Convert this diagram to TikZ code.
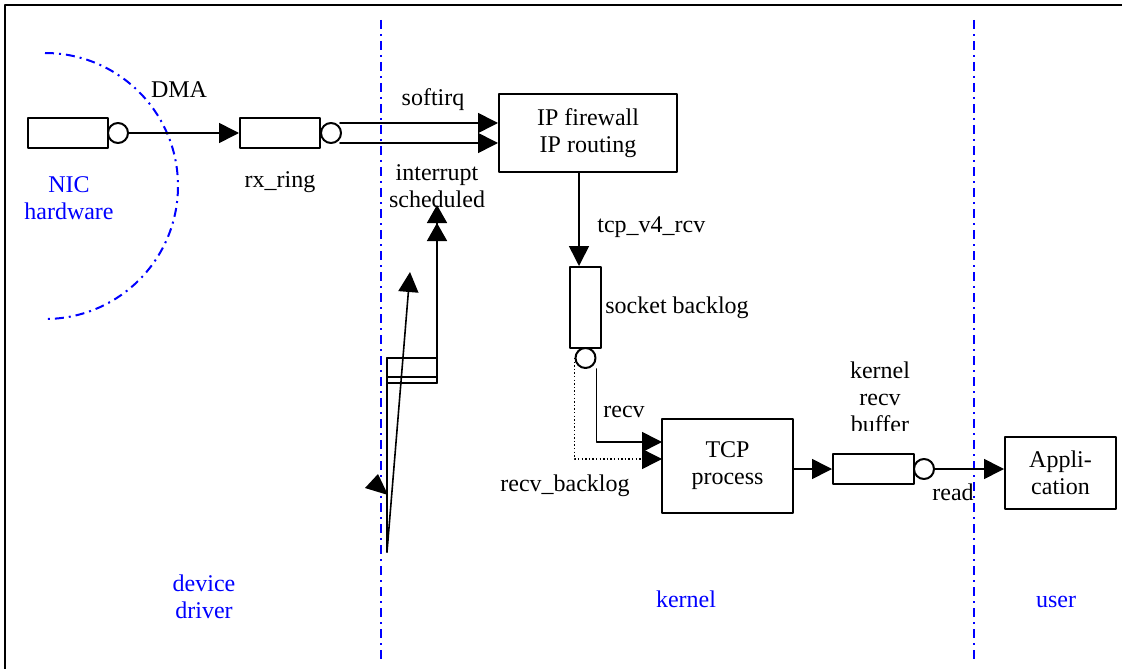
\documentclass[tikz,border=0pt]{standalone}
\usepackage{fontspec}
\setmainfont{Liberation Serif}
\usetikzlibrary{arrows.meta}
\definecolor{qqqqff}{rgb}{0.,0.,1.}
\begin{document}
\begin{tikzpicture}[line cap=round,line join=round,x=0.5pt,y=-0.5pt,
  every node/.style={font=\fontsize{12}{13.5}\selectfont},
  >={Triangle[length=10pt,width=10pt]},
  qbox/.style={draw,line width=1pt,inner sep=0pt},
  qport/.style={circle,draw,line width=1pt,inner sep=0pt,minimum size=10pt},
  fbox/.style={draw,line width=1pt,align=center,inner sep=0pt},
  flow/.style={line width=0.8pt},
  bkflow/.style={line width=0.7pt,line cap=butt,dash pattern=on 0.7pt off 1.1pt},
  zone/.style={color=qqqqff,line width=1pt,line cap=butt,dash pattern=on 4.5pt off 2.5pt on 1pt off 2.5pt},
  zlbl/.style={color=qqqqff,align=center}]
\useasboundingbox (0,0) rectangle (1122,668);
\clip(0,0) rectangle (1122,668);
\draw [line width=1pt] (5,5) rectangle (1140,690);
% zones
\draw [zone] (45,53) arc (90:-90:66.5pt);
\draw [zone] (381,20) -- (381,660);
\draw [zone] (974,20) -- (974,660);
\node[zlbl] (nicl) at (69,198) {NIC\\hardware};
\node[zlbl] (ddl) at (204,597) {device\\driver};
\node[zlbl,anchor=base] (kl) at (686,607) {kernel};
\node[zlbl,anchor=base] (ul) at (1056,607) {user};
% queues and blocks
\node[qbox,minimum width=40pt,minimum height=15pt] (nicq) at (68,133) {};
\node[qport] (nicp) at (118,133) {};
\node[qbox,minimum width=40pt,minimum height=15pt] (rxq) at (280,133) {};
\node[qport] (rxp) at (331,133) {};
\node[fbox,minimum width=89pt,minimum height=39pt] (ipf) at (588,133) {IP firewall\\IP routing};
\node[qbox,minimum width=15.5pt,minimum height=40.5pt] (sockq) at (585.5,307.5) {};
\node[qport] (sockp) at (585.5,358) {};
\node[fbox,minimum width=65.5pt,minimum height=47pt] (tcp) at (727.5,466) {TCP\\process};
\node[qbox,minimum width=40.5pt,minimum height=15pt] (bufq) at (873.5,469) {};
\node[qport] (bufp) at (924,469) {};
\node[fbox,minimum width=55.5pt,minimum height=36pt] (app) at (1060.5,473) {Appli-\\cation};
% flows
\coordinate (sirqa) at (340,123);
\coordinate (sirqb) at (340,143);
\coordinate (v4) at (579,172);
\coordinate (rcvin) at (662,442);
\coordinate (bkin) at (662,459);
\draw [flow,->] (nicp) -- (rxq);
\draw [flow,->] (sirqa) -- (sirqa -| ipf.west);
\draw [flow,->] (sirqb) -- (sirqb -| ipf.west);
\draw [flow,->] (v4) -- (v4 |- sockq.north);
\draw [flow,->] (sockp.east |- sockp.south) |- (rcvin);
\draw [bkflow,->] (sockp.west) |- (bkin);
\draw [flow,->] (tcp.east |- bufq) -- (bufq.west);
\draw [flow,->] (bufp.east) -- (bufp.east -| app.west);
% interrupt
\coordinate (irqa) at (387,552);
\coordinate (irqb) at (387,358);
\coordinate (irqc) at (437,383);
\coordinate (irqd) at (437,205);
\coordinate (irqe) at (410,272);
\coordinate (irqf) at (387,377);
\coordinate (irqg) at (437,377);
\draw [flow] (irqa) -- (irqb);
\draw [flow] (irqb) rectangle (irqc);
\draw [flow] (irqf) -- (irqg);
\draw [flow,-{Triangle[length=9pt,width=10pt,sep=0pt]Triangle[length=9pt,width=10pt]}] (irqc) -- (irqd);
\draw [flow,->] (irqa) -- (irqe);
\fill (365,488) -- (378,474) -- (388,495) -- cycle;
% labels
\node[anchor=base] (dmal) at (179,98) {DMA};
\node[anchor=base] (rxl) at (280,188) {rx\_ring};
\node[anchor=base] (sirql) at (433,106) {softirq};
\node[align=center] (irql) at (437,186) {interrupt\\scheduled};
\node[anchor=base west,inner sep=0pt] (v4l) at (597,232) {tcp\_v4\_rcv};
\node[anchor=base west,inner sep=0pt] (sbl) at (605,313) {socket backlog};
\node[anchor=base west,inner sep=0pt] (rcvl) at (603,417) {recv};
\node[anchor=base] (rbkl) at (565,491) {recv\_backlog};
\node[anchor=base] (rdl) at (953,500) {read};
\begin{scope}
\clip (820,340) rectangle (940,430);
\node[align=center] (kbl) at (880,397) {kernel\\recv\\buffer};
\end{scope}
\end{tikzpicture}
\end{document}
